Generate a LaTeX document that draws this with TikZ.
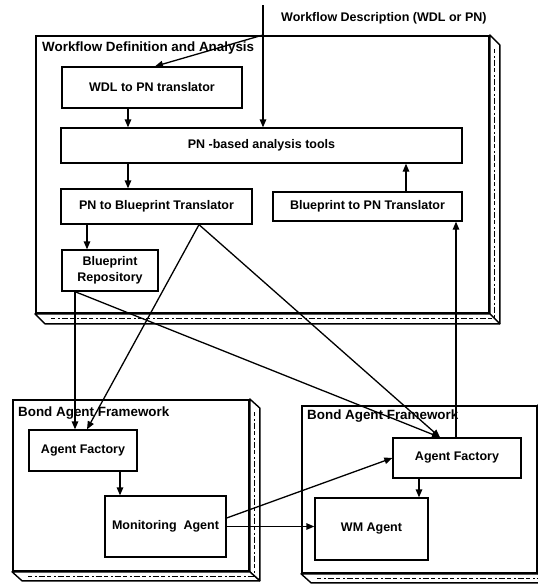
\documentclass[tikz,border=0pt]{standalone}
\usepackage{fontspec}
\setmainfont{Liberation Sans}
\usetikzlibrary{arrows.meta,calc}
\newcommand{\lblfont}{\fontsize{12.5}{16.5}\selectfont\bfseries}
\newcommand{\ttlfont}{\fontsize{13.4}{15}\selectfont\bfseries}
\begin{document}
\begin{tikzpicture}[x=1pt,y=-1pt,
  box/.style={draw,line width=1.3pt,inner sep=0pt,font=\lblfont,align=center},
  frame/.style={draw,line width=1.8pt,inner sep=0pt,anchor=north west},
  slab/.style={draw,line width=1.4pt,fill=white,line join=round},
  tex/.style={line width=1pt,dash pattern=on 4pt off 3pt on 1.5pt off 2pt on 6pt off 2.5pt},
  arr/.style={line width=1.3pt,-{Triangle[length=8pt,width=6.5pt]}},
  ttl/.style={font=\ttlfont,anchor=west,inner sep=0pt}]
\useasboundingbox (0,0) rectangle (538,584);

% ---------- containers ----------
\node[frame,minimum width=453pt,minimum height=277pt] (wfa) at (35,35) {};
\node[frame,minimum width=236pt,minimum height=171pt] (bafl) at (12,399) {};
\node[frame,minimum width=235pt,minimum height=167pt] (bafr) at (301,405) {};

\foreach \f/\dx/\dy in {wfa/10/10, bafl/10/9, bafr/10/9}{
  \draw[slab] (\f.north east) -- ++(\dx,\dy) -- ($(\f.south east)+(\dx,\dy)$) -- (\f.south east) -- cycle;
  \draw[slab] (\f.south west) -- ++(\dx,\dy) -- ($(\f.south east)+(\dx,\dy)$) -- (\f.south east) -- cycle;
  \draw[tex] ($(\f.north east)+(0.5*\dx,\dy+4)$) -- ($(\f.south east)+(0.5*\dx,0.5*\dy)$);
  \draw[tex] ($(\f.south west)+(\dx+6,0.5*\dy)$) -- ($(\f.south east)+(0.5*\dx,0.5*\dy)$);
}

\node[ttl] (t1) at (42,48) {Workflow Definition and Analysis};
\node[ttl] (t2) at (18,413) {Bond Agent Framework};
\node[ttl] (t3) at (307,416) {Bond Agent Framework};
\node[ttl,font=\lblfont] (wdesc) at (281,18) {Workflow Description (WDL or PN)};

% ---------- boxes ----------
\node[box,minimum width=180pt,minimum height=41pt] (wdl) at (152,87.5) {WDL to PN translator};
\node[box,minimum width=401pt,minimum height=35pt] (pn) at (261.5,145.5) {PN -based analysis tools};
\node[box,minimum width=191pt,minimum height=35pt] (pn2b) at (156.5,206.5) {PN to Blueprint Translator};
\node[box,minimum width=189pt,minimum height=29pt] (b2pn) at (367.5,206.5) {Blueprint to PN Translator};
\node[box,minimum width=96pt,minimum height=41pt] (br) at (110,270.5) {Blueprint\\Repository};
\node[box,minimum width=108pt,minimum height=41pt] (afl) at (83,450.5) {Agent Factory};
\node[box,minimum width=121pt,minimum height=61pt] (ma) at (165.5,526.5) {Monitoring\hspace{0.55em}Agent};
\node[box,minimum width=128pt,minimum height=40pt] (afr) at (457,458) {Agent Factory};
\node[box,minimum width=113pt,minimum height=62pt] (wm) at (371.5,529) {WM Agent};

% ---------- connectors ----------
\coordinate (src) at (263,5);
\coordinate (split) at (src |- wfa.north);
\draw[arr] (src) -- (src |- pn.north);
\draw[arr] (split) -- ([xshift=3pt]wdl.north);
\draw[arr] ([xshift=-24pt]wdl.south) -- ([xshift=-24pt]wdl.south |- pn.north);
\draw[arr] ([xshift=-28.5pt]pn2b.north |- pn.south) -- ([xshift=-28.5pt]pn2b.north);
\draw[arr] ([xshift=38.5pt]b2pn.north) -- ([xshift=38.5pt]b2pn.north |- pn.south);
\draw[arr] ([xshift=-23pt]br.north |- pn2b.south) -- ([xshift=-23pt]br.north);

\coordinate (brout) at ([xshift=-35pt]br.south);
\coordinate (pbout) at ([xshift=42.5pt]pn2b.south);
\draw[arr] (brout) -- (brout |- afl.north);
\draw[arr] (brout) -- ([xshift=-17pt]afr.north);
\draw[arr] (pbout) -- ([xshift=4pt]afl.north);
\draw[arr] (pbout) -- ([xshift=-17pt]afr.north);
\draw[arr] ([xshift=-1pt]afr.north) -- ([xshift=-1pt]afr.north |- b2pn.south);

\draw[arr] ([xshift=37pt]afl.south) -- ([xshift=37pt]afl.south |- ma.north);
\draw[arr] ([yshift=8.5pt]ma.east) -- (afr.west);
\draw[arr] (ma.east) -- (ma.east -| wm.west);
\draw[arr] ([xshift=47.5pt]wm.north |- afr.south) -- ([xshift=47.5pt]wm.north);
\end{tikzpicture}
\end{document}
